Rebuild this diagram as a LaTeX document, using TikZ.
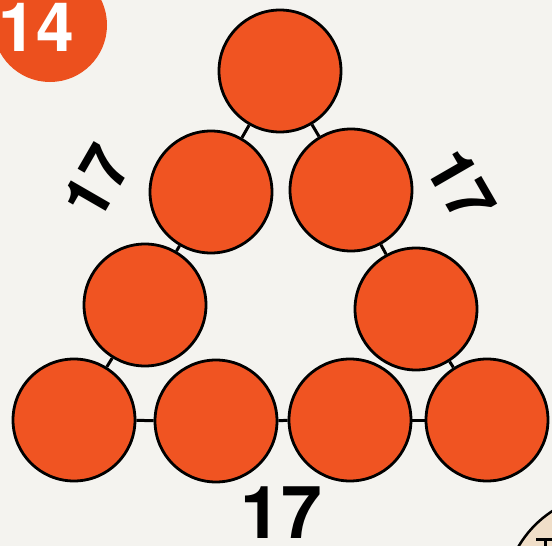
\documentclass[tikz,border=0pt]{standalone}
\usepackage{fontspec}
\setmainfont{TeX Gyre Heros}
\definecolor{bgpaper}{RGB}{244,243,239}
\definecolor{ballfill}{RGB}{240,84,34}
\definecolor{badgefill}{RGB}{236,80,30}
\definecolor{beige}{RGB}{240,222,200}
\tikzset{
  ball/.style={circle, draw=black, line width=2.8pt, fill=ballfill, minimum size=122pt, inner sep=0pt},
  link/.style={draw=black, line width=3pt},
  numlabel/.style={font=\fontsize{64}{64}\selectfont\bfseries, text=black, inner sep=0pt},
  bignum/.style={font=\fontsize{73}{73}\selectfont\bfseries, text=black, inner sep=0pt}
}
\begin{document}
\begin{tikzpicture}[x=1pt,y=-1pt]
\fill[bgpaper] (0,0) rectangle (552,546);
\useasboundingbox (0,0) rectangle (552,546);
% partial element in the corner
\begin{scope}
\clip (0,0) rectangle (552,546);
\filldraw[fill=beige, draw=black, line width=2.5pt] (610,600) circle[radius=106];
\draw[black, line width=3pt] (536,539) -- (556,539);
\draw[black, line width=3pt] (545,539) -- (545,550);
% badge
\fill[badgefill] (50,25) circle[radius=57];
\end{scope}
\node[font=\fontsize{68}{68}\selectfont\bfseries, text=white, inner sep=0pt] (badge) at (36,27) {14};
% balls
\node[ball] (t)  at (280,71) {};
\node[ball] (l2) at (211,192) {};
\node[ball] (r2) at (351,190) {};
\node[ball] (l3) at (145,305) {};
\node[ball] (r3) at (416,309) {};
\node[ball] (b1) at (74,420) {};
\node[ball] (b2) at (216,421) {};
\node[ball] (b3) at (350,420) {};
\node[ball] (b4) at (487,420) {};
% links
\draw[link] (t) -- (l2);
\draw[link] (t) -- (r2);
\draw[link] (l2) -- (l3);
\draw[link] (r2) -- (r3);
\draw[link] (l3) -- (b1);
\draw[link] (r3) -- (b4);
\draw[link] (b1) -- (b2);
\draw[link] (b2) -- (b3);
\draw[link] (b3) -- (b4);
% labels
\node[numlabel, rotate=60] (sl) at (97,182) {17};
\node[numlabel, rotate=-60] (sr) at (461,186) {17};
\node[bignum] (sb) at (281,513) {17};
\end{tikzpicture}
\end{document}
